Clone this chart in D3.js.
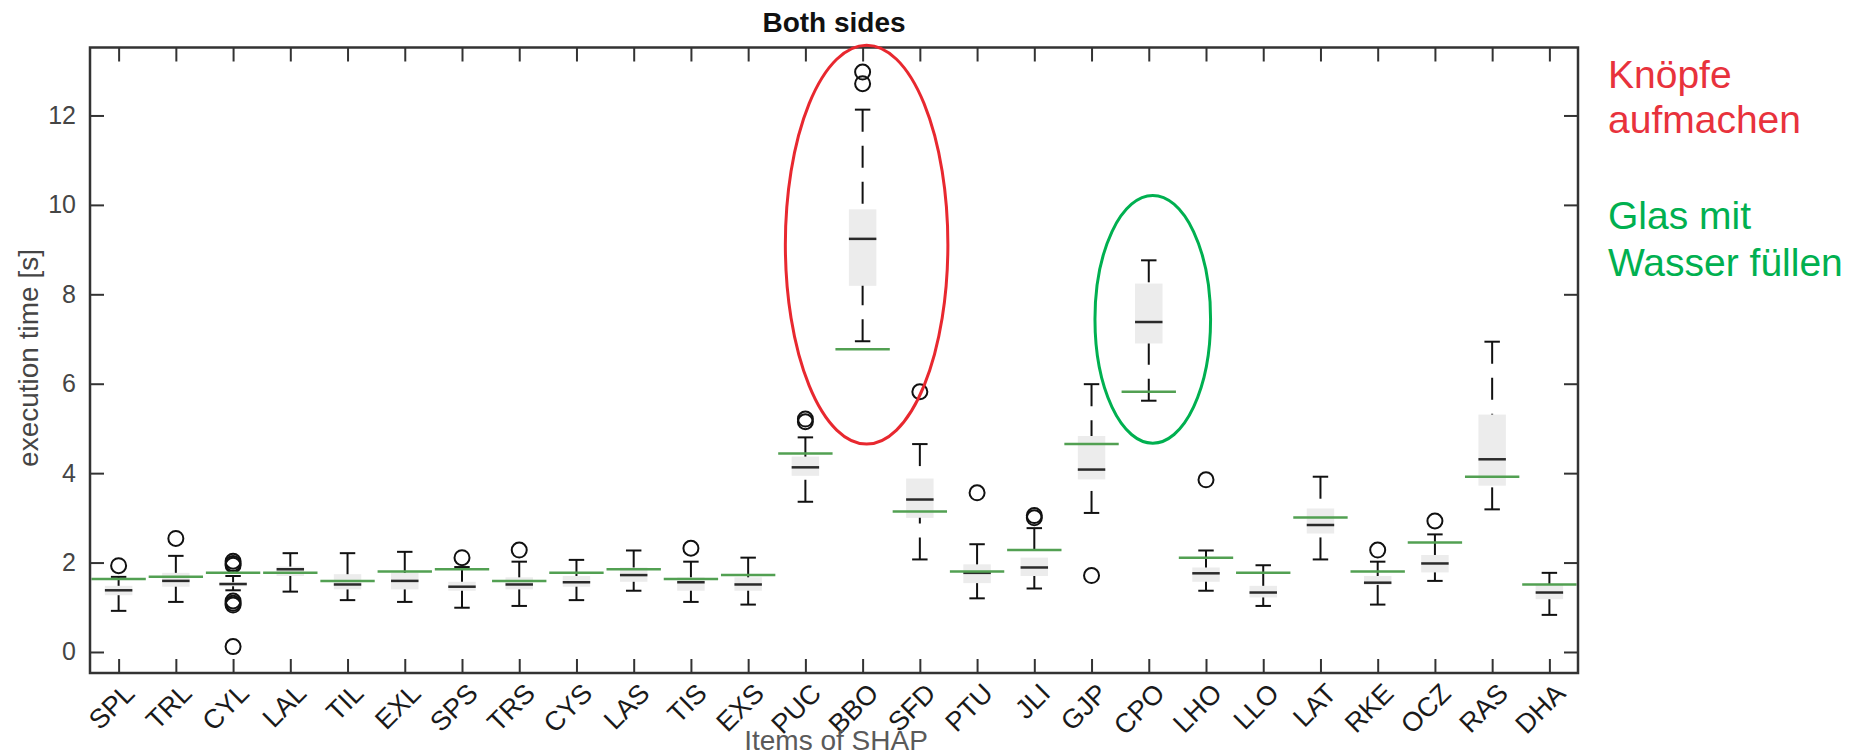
<!DOCTYPE html>
<html>
<head>
<meta charset="utf-8">
<script src="https://cdn.jsdelivr.net/npm/d3@7"></script>
<style>
  html, body { margin: 0; padding: 0; background: #fff; }
  svg { display: block; font-family: "Liberation Sans", Arial, sans-serif; }
</style>
</head>
<body>
<svg id="chart" width="1868" height="755"></svg>
<script>
// --- data ---
const categories = ["SPL", "TRL", "CYL", "LAL", "TIL", "EXL", "SPS", "TRS", "CYS", "LAS", "TIS", "EXS",
  "PUC", "BBO", "SFD", "PTU", "JLI", "GJP", "CPO", "LHO", "LLO", "LAT", "RKE", "OCZ", "RAS", "DHA"];

const lowWhisker  = [0.92, 1.12, 1.38, 1.35, 1.16, 1.12, 0.99, 1.03, 1.16, 1.37, 1.12, 1.06,
  3.36, 6.95, 2.07, 1.20, 1.42, 3.11, 5.62, 1.37, 1.03, 2.07, 1.06, 1.59, 3.19, 0.83];
const q1          = [1.27, 1.46, 1.47, 1.70, 1.40, 1.40, 1.37, 1.40, 1.46, 1.57, 1.37, 1.37,
  3.94, 8.19, 3.00, 1.54, 1.70, 3.86, 6.90, 1.57, 1.22, 2.65, 1.50, 1.78, 3.72, 1.18];
const median      = [1.38, 1.59, 1.52, 1.85, 1.51, 1.59, 1.46, 1.51, 1.56, 1.72, 1.56, 1.51,
  4.13, 9.24, 3.41, 1.77, 1.89, 4.08, 7.38, 1.76, 1.33, 2.84, 1.55, 1.98, 4.31, 1.33];
const q3          = [1.48, 1.77, 1.56, 1.91, 1.74, 1.77, 1.57, 1.67, 1.70, 1.89, 1.67, 1.67,
  4.37, 9.90, 3.88, 1.96, 2.11, 4.83, 8.24, 1.89, 1.48, 3.21, 1.70, 2.17, 5.31, 1.50];
const highWhisker = [1.68, 2.15, 1.70, 2.21, 2.21, 2.24, 1.90, 2.02, 2.06, 2.27, 2.02, 2.11,
  4.80, 12.13, 4.65, 2.41, 2.77, 5.99, 8.76, 2.27, 1.94, 3.92, 2.02, 2.63, 6.94, 1.77];
const outliers = [[1.93], [2.54], [2.03, 1.98, 1.94, 1.14, 1.09, 1.05, 0.12], [], [], [], [2.11], [2.28], [], [], [2.32], [],
  [5.15, 5.21], [12.71, 12.97], [5.82], [3.56], [3.00, 3.05], [1.71], [], [3.85], [], [], [2.28], [2.93], [], []];
// green reference level per item
const reference   = [1.63, 1.68, 1.77, 1.77, 1.59, 1.80, 1.85, 1.59, 1.77, 1.85, 1.63, 1.72,
  4.44, 6.77, 3.14, 1.80, 2.28, 4.65, 5.82, 2.11, 1.77, 3.01, 1.80, 2.45, 3.92, 1.51];

const yTicks = [0, 2, 4, 6, 8, 10, 12];
// highlighted items: centre value, half width in items, half height in s
const highlights = [
  { item: "BBO", cy: 9.11, rx: 1.42, ry: 4.46, color: "#e8282f" },
  { item: "CPO", cy: 7.44, rx: 1.01, ry: 2.77, color: "#00b050" }
];
const notes = [
  { lines: ["Knöpfe", "aufmachen"], color: "#e8323c" },
  { lines: ["Glas mit", "Wasser füllen"], color: "#00b050" }
];

// --- layout ---
const plotLeft = 90, plotRight = 1578, plotTop = 47.5, plotBottom = 673;
const svg = d3.select("#chart");

const x = d3.scaleLinear().domain([0.5, categories.length + 0.5]).range([plotLeft, plotRight]);
const y = d3.scaleLinear().domain([-0.47, 13.52]).range([plotBottom, plotTop]);
const step = x(2) - x(1);

const rows = categories.map((c, i) => ({
  name: c, pos: i + 1,
  lo: lowWhisker[i], q1: q1[i], med: median[i], q3: q3[i], hi: highWhisker[i],
  out: outliers[i], ref: reference[i]
}));

const g = svg.append("g");

// boxes
g.selectAll("rect.box").data(rows).join("rect")
  .attr("class", "box")
  .attr("x", d => x(d.pos) - step * 0.24)
  .attr("width", step * 0.48)
  .attr("y", d => y(d.q3))
  .attr("height", d => y(d.q1) - y(d.q3))
  .attr("fill", "#ececec");

// whiskers (dashed)
const whisk = g.append("g").attr("stroke", "#111").attr("stroke-width", 2).attr("stroke-dasharray", "22,14");
whisk.append("g").selectAll("line").data(rows).join("line")
  .attr("x1", d => x(d.pos)).attr("x2", d => x(d.pos))
  .attr("y1", d => y(d.hi)).attr("y2", d => y(d.q3));
whisk.append("g").selectAll("line").data(rows).join("line")
  .attr("x1", d => x(d.pos)).attr("x2", d => x(d.pos))
  .attr("y1", d => y(d.lo)).attr("y2", d => y(d.q1));

// whisker caps
const caps = g.append("g").attr("stroke", "#111").attr("stroke-width", 2);
rows.forEach(d => {
  [d.lo, d.hi].forEach(v => {
    caps.append("line")
      .attr("x1", x(d.pos) - step * 0.135).attr("x2", x(d.pos) + step * 0.135)
      .attr("y1", y(v)).attr("y2", y(v));
  });
});

// medians
g.selectAll("line.med").data(rows).join("line")
  .attr("class", "med")
  .attr("x1", d => x(d.pos) - step * 0.24).attr("x2", d => x(d.pos) + step * 0.24)
  .attr("y1", d => y(d.med)).attr("y2", d => y(d.med))
  .attr("stroke", "#2a2a2a").attr("stroke-width", 2.5);

// outliers
const pts = rows.flatMap(d => d.out.map(v => ({ pos: d.pos, v })));
g.selectAll("circle.out").data(pts).join("circle")
  .attr("class", "out")
  .attr("cx", d => x(d.pos)).attr("cy", d => y(d.v)).attr("r", 7.5)
  .attr("fill", "none").attr("stroke", "#111").attr("stroke-width", 2);

// green reference lines
g.selectAll("line.ref").data(rows).join("line")
  .attr("class", "ref")
  .attr("x1", d => x(d.pos) - step * 0.475).attr("x2", d => x(d.pos) + step * 0.475)
  .attr("y1", d => y(d.ref)).attr("y2", d => y(d.ref))
  .attr("stroke", "#52a052").attr("stroke-width", 2.5);

// --- axes ---
const axisColor = "#333", labelColor = "#454545";

const yAxis = svg.append("g").attr("transform", `translate(${plotLeft},0)`)
  .call(d3.axisLeft(y).tickValues(yTicks).tickSize(-14).tickSizeOuter(0).tickPadding(14));
yAxis.selectAll("text").attr("font-size", 25).attr("fill", labelColor).attr("font-family", "Liberation Sans, Arial");

svg.append("g").attr("transform", `translate(${plotRight},0)`)
  .call(d3.axisRight(y).tickValues(yTicks).tickSize(-14).tickSizeOuter(0).tickFormat(""));
svg.append("g").attr("transform", `translate(0,${plotTop})`)
  .call(d3.axisTop(x).tickValues(d3.range(1, categories.length + 1)).tickSize(-14).tickSizeOuter(0).tickFormat(""));

const xAxis = svg.append("g").attr("transform", `translate(0,${plotBottom})`)
  .call(d3.axisBottom(x).tickValues(d3.range(1, categories.length + 1))
    .tickFormat(i => categories[i - 1]).tickSize(-14).tickSizeOuter(0));
xAxis.selectAll("text")
  .attr("x", 0).attr("y", 0).attr("dy", 0)
  .attr("transform", "translate(17,22) rotate(-45)")
  .attr("text-anchor", "end")
  .attr("font-size", 27).attr("fill", "#1a1a1a").attr("font-family", "Liberation Sans, Arial");

svg.selectAll(".domain").remove();
svg.selectAll(".tick line").attr("stroke", axisColor).attr("stroke-width", 2);

svg.append("rect")
  .attr("x", plotLeft).attr("y", plotTop).attr("width", plotRight - plotLeft).attr("height", plotBottom - plotTop)
  .attr("fill", "none").attr("stroke", axisColor).attr("stroke-width", 2.5);

// labels
svg.append("text")
  .attr("transform", `translate(38,358) rotate(-90)`)
  .attr("text-anchor", "middle").attr("font-size", 28).attr("fill", labelColor)
  .text("execution time [s]");

svg.append("text")
  .attr("x", (plotLeft + plotRight) / 2 + 2).attr("y", 750)
  .attr("text-anchor", "middle").attr("font-size", 28).attr("fill", "#5a5a5a")
  .text("Items of SHAP");

svg.append("text")
  .attr("x", (plotLeft + plotRight) / 2).attr("y", 32)
  .attr("text-anchor", "middle").attr("font-size", 28).attr("font-weight", "bold").attr("fill", "#111")
  .text("Both sides");

// highlight ellipses
svg.selectAll("ellipse").data(highlights).join("ellipse")
  .attr("cx", d => x(categories.indexOf(d.item) + 1) + 4)
  .attr("cy", d => y(d.cy))
  .attr("rx", d => d.rx * step)
  .attr("ry", d => y(0) - y(d.ry))
  .attr("fill", "none").attr("stroke", d => d.color).attr("stroke-width", 3);

// side notes
const noteY = [[88, 133], [229, 276]];
notes.forEach((n, k) => {
  n.lines.forEach((line, j) => {
    svg.append("text")
      .attr("x", 1608).attr("y", noteY[k][j])
      .attr("font-size", 39).attr("fill", n.color)
      .text(line);
  });
});
</script>
</body>
</html>
